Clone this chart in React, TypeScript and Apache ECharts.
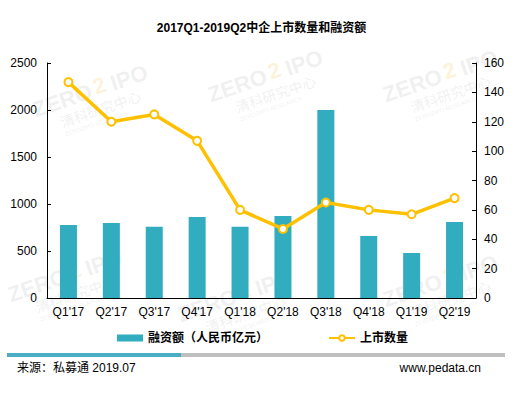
import React, { useEffect, useRef } from "react";
import * as echarts from "echarts";

const categories = ["Q1'17", "Q2'17", "Q3'17", "Q4'17", "Q1'18", "Q2'18", "Q3'18", "Q4'18", "Q1'19", "Q2'19"];
const financing = [777, 798, 757, 862, 757, 872, 2000, 660, 479, 809];
const ipoCount = [147, 120, 125, 107, 60, 47, 65, 60, 57, 68];
const barName = "融资额（人民币亿元）";
const lineName = "上市数量";
const titleText = "2017Q1-2019Q2中企上市数量和融资额";
const sourceText = "来源：私募通 2019.07";
const siteText = "www.pedata.cn";

const FONT = "'Liberation Sans', Arial, 'Noto Sans CJK SC', sans-serif";
const WM = "rgba(180,180,180,0.2)";

function watermark(x: number, y: number) {
  return {
    type: "group",
    x,
    y,
    rotation: 0.33,
    silent: true,
    z: -10,
    children: [
      { type: "text", x: 0, y: 0, style: { text: "ZERO", fill: WM, font: "bold 22px " + FONT } },
      { type: "text", x: 64, y: -2, style: { text: "2", fill: "rgba(245,200,90,0.22)", font: "bold 22px " + FONT } },
      { type: "text", x: 82, y: 0, style: { text: "IPO", fill: WM, font: "bold 22px " + FONT } },
      { type: "text", x: 22, y: 24, style: { text: "清科研究中心", fill: WM, font: "14px 'Noto Sans CJK SC', sans-serif" } },
      { type: "text", x: 22, y: 41, style: { text: "ZEROZIPO RESEARCH", fill: WM, font: "6px " + FONT } },
    ],
  };
}

export default function App() {
  const ref = useRef<HTMLDivElement>(null);
  useEffect(() => {
    if (!ref.current) return;
    const chart = echarts.init(ref.current, undefined, { renderer: "svg" });
    chart.setOption({
      animation: false,
      backgroundColor: "#ffffff",
      textStyle: { fontFamily: FONT },
      title: {
        text: titleText,
        left: "center",
        top: 17,
        textStyle: { fontSize: 12, fontWeight: "bold", color: "#000", fontFamily: FONT },
      },
      grid: { left: 47, right: 47, top: 63, bottom: 95 },
      legend: {
        top: 327,
        left: 112,
        itemGap: 60,
        itemWidth: 26,
        itemHeight: 7,
        textStyle: { fontSize: 12, fontWeight: "bold", color: "#000", fontFamily: FONT },
        data: [
          { name: barName, icon: "rect" },
          { name: lineName },
        ],
      },
      xAxis: {
        type: "category",
        data: categories,
        axisLine: { lineStyle: { color: "#000", width: 1 } },
        axisTick: { inside: true, length: 4, lineStyle: { color: "#000" } },
        axisLabel: { color: "#000", fontSize: 12, margin: 8, interval: 0, fontFamily: FONT },
      },
      yAxis: [
        {
          type: "value",
          min: 0,
          max: 2500,
          interval: 500,
          splitLine: { show: false },
          axisLine: { show: true, lineStyle: { color: "#000" } },
          axisTick: { show: true, inside: true, length: 4, lineStyle: { color: "#000" } },
          axisLabel: { color: "#000", fontSize: 12, margin: 10, fontFamily: FONT, formatter: (v: number) => String(v) },
        },
        {
          type: "value",
          min: 0,
          max: 160,
          interval: 20,
          position: "right",
          splitLine: { show: false },
          axisLine: { show: true, lineStyle: { color: "#000" } },
          axisTick: { show: true, inside: true, length: 4, lineStyle: { color: "#000" } },
          axisLabel: { color: "#000", fontSize: 12, margin: 8, fontFamily: FONT, formatter: (v: number) => String(v) },
        },
      ],
      series: [
        {
          name: barName,
          type: "bar",
          data: financing,
          barWidth: 17,
          itemStyle: { color: "#31ADBF" },
          yAxisIndex: 0,
          z: 2,
        },
        {
          name: lineName,
          type: "line",
          data: ipoCount,
          yAxisIndex: 1,
          symbol: "circle",
          symbolSize: 8,
          showAllSymbol: true,
          lineStyle: { color: "#FFC000", width: 3.5 },
          itemStyle: { color: "#ffffff", borderColor: "#FFC000", borderWidth: 2 },
          z: 3,
        },
      ],
      graphic: [
        watermark(30, 100),
        watermark(205, 85),
        watermark(380, 85),
        watermark(5, 285),
        watermark(175, 305),
        watermark(380, 290),
        { type: "rect", shape: { x: 7, y: 353, width: 174, height: 4 }, style: { fill: "#4BACC6" }, silent: true },
        { type: "rect", shape: { x: 181, y: 353, width: 324, height: 4 }, style: { fill: "#BFBFBF" }, silent: true },
        {
          type: "text",
          left: 17,
          top: 362,
          style: { text: sourceText, fill: "#000", font: "12px " + FONT },
        },
        {
          type: "text",
          right: 42,
          top: 362,
          style: { text: siteText, fill: "#000", font: "12px " + FONT },
        },
      ],
    });
    return () => chart.dispose();
  }, []);
  return <div ref={ref} style={{ position: "absolute", left: 0, top: 0, width: 523, height: 393 }} />;
}
